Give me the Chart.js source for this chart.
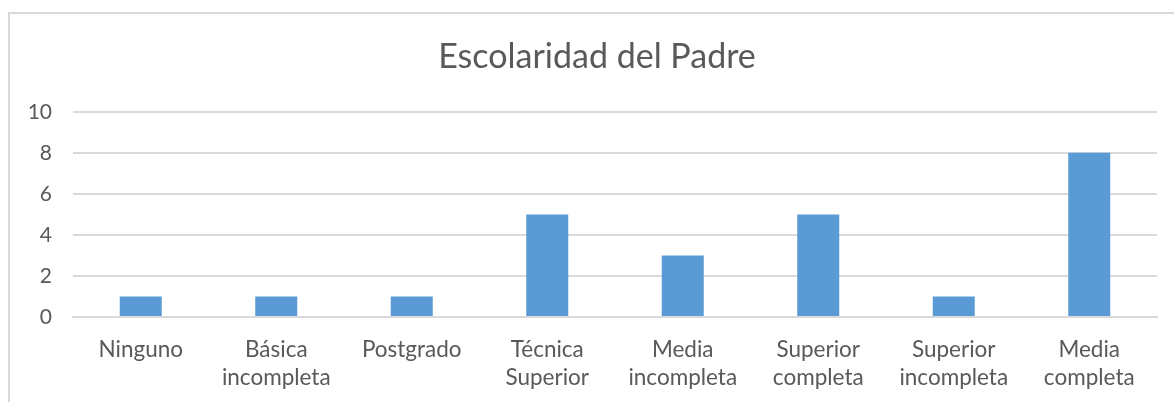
<!DOCTYPE html>
<html>
<head>
<meta charset="utf-8">
<script src="https://cdn.jsdelivr.net/npm/chart.js@4/dist/chart.umd.min.js"></script>
<style>
  html, body { margin: 0; padding: 0; background: #fff; overflow: hidden; width: 1174px; height: 402px; }
  #frame { position: absolute; left: 8px; top: 12px; width: 1200px; height: 420px; border-left: 2px solid #d9d9d9; border-top: 2px solid #d9d9d9; }
  #wrap { position: absolute; left: 10px; top: 14px; width: 1174px; height: 388px; }
</style>
</head>
<body>
<div id="frame"></div>
<div id="wrap"><canvas id="c"></canvas></div>
<script>
const categories = [
  ["Ninguno"],
  ["Básica", "incompleta"],
  ["Postgrado"],
  ["Técnica", "Superior"],
  ["Media", "incompleta"],
  ["Superior", "completa"],
  ["Superior", "incompleta"],
  ["Media", "completa"]
];
const values = [1, 1, 1, 5, 3, 5, 1, 8];
const yTicks = [0, 2, 4, 6, 8, 10];
const titleText = "Escolaridad del Padre";

const FONT = "Lato, 'Open Sans', sans-serif";
const TXT = "#595959";
const GRID = "#d9d9d9";

new Chart(document.getElementById('c'), {
  type: 'bar',
  data: {
    labels: categories,
    datasets: [{
      data: values,
      backgroundColor: '#5B9BD5',
      borderWidth: 0,
      categoryPercentage: 1,
      barPercentage: 0.31
    }]
  },
  options: {
    responsive: true,
    maintainAspectRatio: false,
    animation: false,
    layout: { padding: 0 },
    plugins: {
      legend: { display: false },
      tooltip: { enabled: false },
      title: {
        display: true,
        text: titleText,
        color: TXT,
        font: { family: FONT, size: 34, weight: 'normal', lineHeight: 1.2 },
        padding: { top: 23, bottom: 34 }
      }
    },
    scales: {
      x: {
        grid: { display: false, drawTicks: false },
        border: { display: true, color: GRID, width: 2 },
        ticks: {
          color: TXT,
          font: { family: FONT, size: 22.5, lineHeight: 1.25 },
          padding: 19,
          maxRotation: 0,
          autoSkip: false
        },
        afterFit: (s) => { s.height = 85; }
      },
      y: {
        min: 0,
        max: 10,
        afterBuildTicks: (s) => { s.ticks = yTicks.map(v => ({ value: v })); },
        grid: { color: GRID, lineWidth: 2, drawTicks: false },
        border: { display: false },
        ticks: {
          color: TXT,
          font: { family: FONT, size: 21 },
          padding: 21
        },
        afterFit: (s) => { s.width = 63; }
      },
      yRight: {
        position: 'right',
        display: true,
        grid: { display: false, drawTicks: false },
        border: { display: false },
        ticks: { display: false },
        afterFit: (s) => { s.width = 27; }
      }
    }
  }
});
</script>
</body>
</html>
